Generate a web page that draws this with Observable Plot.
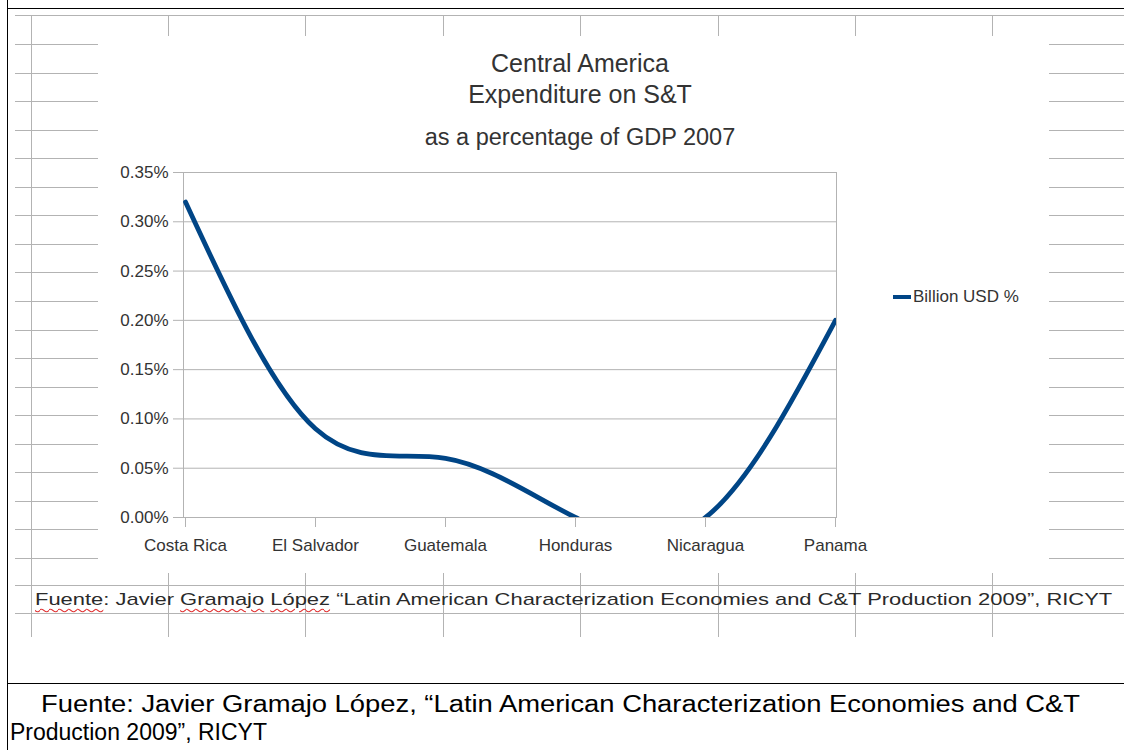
<!DOCTYPE html>
<html>
<head>
<meta charset="utf-8">
<script src="https://cdn.jsdelivr.net/npm/d3@7"></script>
<script src="https://cdn.jsdelivr.net/npm/@observablehq/plot@0.6"></script>
<style>
  body { margin: 0; background: #fff; font-family: "Liberation Sans", Arial, sans-serif; }
  #page { position: relative; width: 1124px; height: 750px; overflow: hidden; background: #fff; }
  .g { position: absolute; background: #b3b3b3; }
  .k { position: absolute; background: #000; }
  .t { position: absolute; white-space: nowrap; color: #333; }
  .sp { text-decoration: underline wavy #e03030; text-decoration-thickness: 1px; text-underline-offset: 3px; }
  #chart { position: absolute; left: 0; top: 150px; }
</style>
</head>
<body>
<div id="page"></div>
<script>
// ---- data ----
const countries = ["Costa Rica", "El Salvador", "Guatemala", "Honduras", "Nicaragua", "Panama"];
const values = [0.32, 0.09, 0.06, 0.00, 0.00, 0.20]; // % of GDP
const yTicks = [0, 0.05, 0.10, 0.15, 0.20, 0.25, 0.30, 0.35];
const seriesName = "Billion USD %";
const titleLines = ["Central America", "Expenditure on S&T"];
const subtitle = "as a percentage of GDP 2007";

const page = document.getElementById("page");
function box(cls, x, y, w, h) {
  const d = document.createElement("div");
  d.className = cls;
  Object.assign(d.style, {left: x + "px", top: y + "px", width: w + "px", height: h + "px"});
  page.appendChild(d);
  return d;
}

// ---- spreadsheet background ----
box("k", 7, 0, 1, 750);
box("k", 7, 8, 1117, 1);
box("k", 7, 683, 1117, 1);
box("g", 15, 15, 1109, 1);
box("g", 31, 15, 1, 622);
const colX = [168, 305, 443, 580, 718, 855, 992];
colX.forEach(x => { box("g", x, 15, 1, 21); box("g", x, 573, 1, 64); });
for (let y = 44; y < 572; y += 28.55) {
  box("g", 15, Math.round(y), 83, 1);
  box("g", 1049, Math.round(y), 75, 1);
}
box("g", 15, 585, 1109, 1);
box("g", 15, 613, 1109, 1);

// spreadsheet cell text
const cell = document.createElement("div");
cell.className = "t";
Object.assign(cell.style, {left: "35px", top: "590px", fontSize: "17px", color: "#2a2a2a", transform: "scaleX(1.29)", transformOrigin: "0 0"});
cell.innerHTML = '<span class="sp">Fuente</span>: Javier <span class="sp">Gramajo</span> <span class="sp">López</span> “Latin American Characterization Economies and C&amp;T Production 2009”, RICYT';
page.appendChild(cell);

// bottom caption
const cap1 = document.createElement("div");
Object.assign(cap1.style, {position: "absolute", left: "41px", top: "690px", fontSize: "23px", lineHeight: "28px", color: "#000", whiteSpace: "pre", transform: "scaleX(1.19)", transformOrigin: "0 0"});
cap1.textContent = "Fuente: Javier Gramajo López, “Latin American Characterization Economies and C&T";
page.appendChild(cap1);
const cap2 = document.createElement("div");
Object.assign(cap2.style, {position: "absolute", left: "10px", top: "718px", fontSize: "23px", lineHeight: "28px", color: "#000", whiteSpace: "pre"});
cap2.textContent = "Production 2009”, RICYT";
page.appendChild(cap2);

// ---- titles ----
const title = document.createElement("div");
Object.assign(title.style, {position: "absolute", left: "330px", width: "500px", top: "48px", textAlign: "center", fontSize: "25px", lineHeight: "31px", color: "#333"});
title.innerHTML = titleLines.join("<br>");
page.appendChild(title);
const sub = document.createElement("div");
Object.assign(sub.style, {position: "absolute", left: "330px", width: "500px", top: "124px", textAlign: "center", fontSize: "23.5px", lineHeight: "27px", color: "#333"});
sub.textContent = subtitle;
page.appendChild(sub);

// ---- chart ----
const data = countries.map((c, i) => ({country: c, value: values[i]}));
const chart = Plot.plot({
  width: 1124,
  height: 407,
  marginTop: 22,
  marginBottom: 40,
  marginLeft: 183,
  marginRight: 288,
  style: {fontFamily: "Liberation Sans, Arial, sans-serif", fontSize: "17px", background: "transparent", overflow: "visible"},
  x: {type: "point", domain: countries, padding: 0},
  y: {domain: [0, 0.35]},
  marks: [
    Plot.gridY(yTicks, {stroke: "#b3b3b3", strokeOpacity: 1}),
    Plot.frame({stroke: "#b3b3b3"}),
    Plot.axisY(yTicks, {tickSize: 10, tickPadding: 5, stroke: "#b3b3b3", fill: "#333", tickFormat: d => d.toFixed(2) + "%", label: null}),
    Plot.axisX({tickSize: 10, tickPadding: 11, stroke: "#b3b3b3", fill: "#333", label: null}),
    Plot.line(data, {x: "country", y: "value", curve: "natural", stroke: "#004586", strokeWidth: 4.8, clip: true})
  ]
});
chart.id = "chart";
page.appendChild(chart);

// ---- legend ----
const leg = document.createElement("div");
leg.className = "t";
Object.assign(leg.style, {left: "893px", top: "287px", fontSize: "17px", display: "flex", alignItems: "center"});
leg.innerHTML = '<span style="display:inline-block;width:18px;height:4px;background:#004586;margin-right:2px"></span>' + seriesName;
page.appendChild(leg);
</script>
</body>
</html>
